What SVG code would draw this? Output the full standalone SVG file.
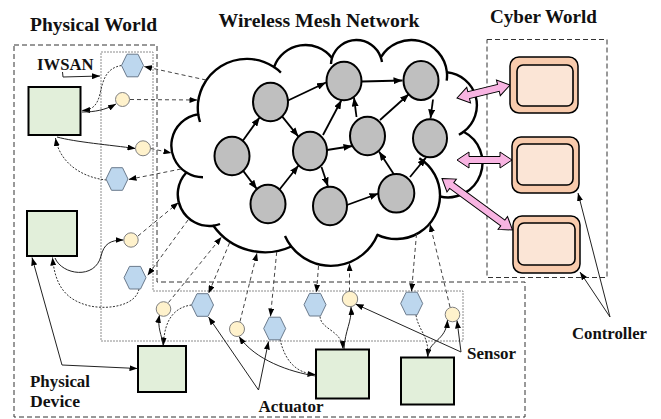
<svg xmlns="http://www.w3.org/2000/svg" width="661" height="419" viewBox="0 0 661 419">
<style>
.lbl{font-family:"Liberation Serif","Times New Roman",serif;font-weight:bold;fill:#111;}
.t19{font-size:19px;}
.t17{font-size:17px;}
.box{fill:none;stroke:#333;stroke-width:1;stroke-dasharray:5,3;}
.iw{fill:none;stroke:#8c8c8c;stroke-width:1;stroke-dasharray:2,1;}
.cloud{fill:#fff;stroke:#000;stroke-width:2.4;stroke-linejoin:round;}
.tail{fill:none;stroke:#000;stroke-width:2.4;}
.mn{fill:#bfbfbf;stroke:#000;stroke-width:2;}
.me{stroke:#000;stroke-width:1.8;fill:none;marker-end:url(#ahn);}
.dev{fill:#e2efda;stroke:#000;stroke-width:2;}
.sen{fill:#fff2cc;stroke:#7f7f7f;stroke-width:1;}
.act{fill:#bdd7ee;stroke:#6a7a8c;stroke-width:1;}
.co{fill:#f8cbad;stroke:#000;stroke-width:1.5;}
.ci{fill:#fbe5d6;stroke:#000;stroke-width:1.6;}
.pk{fill:#f8b4e2;stroke:#000;stroke-width:1;}
.dl{fill:none;stroke:#444;stroke-width:1;stroke-dasharray:4,3;marker-end:url(#ah);}
.dt{fill:none;stroke:#333;stroke-width:1;stroke-dasharray:2,1.5;marker-end:url(#ah);}
.sl{fill:none;stroke:#222;stroke-width:1;marker-end:url(#ah);}
</style>
<defs>
<marker id="ah" markerUnits="userSpaceOnUse" markerWidth="8" markerHeight="6" refX="8" refY="3" orient="auto"><path d="M0,0 L8,3 L0,6 z" fill="#000"/></marker>
<marker id="ahn" markerUnits="userSpaceOnUse" markerWidth="9" markerHeight="7" refX="9" refY="3.5" orient="auto"><path d="M0,0 L9,3.5 L0,7 z" fill="#000"/></marker>
<polygon id="hex" points="-11,0 -5.5,-11.3 5.5,-11.3 11,0 5.5,11.3 -5.5,11.3"/>
</defs>

<g id="frames">
<path class="box" d="M14,45 H157 V282 H525 V417 H14 Z"/>
<rect class="box" x="487" y="39.5" width="120" height="238"/>
<path class="iw" d="M101,52 H153 V291 H463 V341 H101 Z"/>
</g>

<g id="titles">
<text class="lbl t19" x="30" y="31" textLength="127" lengthAdjust="spacingAndGlyphs">Physical World</text>
<text class="lbl t19" x="218.5" y="27" textLength="201" lengthAdjust="spacingAndGlyphs">Wireless Mesh Network</text>
<text class="lbl t19" x="490" y="22.5" textLength="107" lengthAdjust="spacingAndGlyphs">Cyber World</text>
</g>

<g id="cloud">
<path class="cloud" d="M198.2,114.2 A49,49 0 0,1 274,67.1 A33.5,33.5 0 0,1 332,58 A25.7,25.7 0 0,1 380.8,57.3 A35.7,35.7 0 0,1 446.9,72.2 A33.2,33.2 0 0,1 463.6,131.8 A34.7,34.7 0 0,1 440,196.5 A43.7,43.7 0 0,1 377.5,234.8 A50.4,50.4 0 0,1 291.3,246.5 A63.3,63.3 0 0,1 213.4,225.7 A31.7,31.7 0 0,1 186.4,172.5 A31.7,31.7 0 0,1 198.2,114.2 Z"/>
<path class="tail" d="M200,122 A49,49 0 0,1 198.2,114.2 M274,67.1 A49,49 0 0,1 280.9,72.6 M331,64 A25.7,25.7 0 0,1 332,58 M380.8,57.3 A25.7,25.7 0 0,1 382,62 M446.9,72.2 A35.7,35.7 0 0,1 446.7,80.7 M463.6,131.8 A33.2,33.2 0 0,1 458.9,134.8 M419.3,158.2 A43.7,43.7 0 0,1 440,196.5 M291.3,246.5 A50.4,50.4 0 0,1 285,236 M220,224 A31.7,31.7 0 0,1 213.4,225.7 M203,177.2 A31.7,31.7 0 0,1 186.4,172.5"/>
</g>

<g id="connectors">
<!-- mesh edges -->
<path class="me" d="M242.8,140.8 L259.7,117.2"/>
<path class="me" d="M243.2,170.9 L256.9,189.1"/>
<path class="me" d="M288,100.5 L326,82.5"/>
<path class="me" d="M282.1,116.4 L298.4,136.6"/>
<path class="me" d="M279.5,189.5 L298.5,165.5"/>
<path class="me" d="M323,135 L341.5,100"/>
<path class="me" d="M327,150 L352.5,146"/>
<path class="me" d="M321.5,167 L328,186.5"/>
<path class="me" d="M356.5,117 L354,97.5"/>
<path class="me" d="M362,81.5 L402.5,80.5"/>
<path class="me" d="M380,120 L409,94"/>
<path class="me" d="M433,99.5 L430.5,118.5"/>
<path class="me" d="M347,205 L378.5,193.5"/>
<path class="me" d="M394,174.5 L379,151.5"/>
<path class="me" d="M410,177 L426,157.5"/>
<!-- pink links -->
<polygon class="pk" transform="translate(457,98) rotate(-13.78)" points="0,0 12,-8 12,-3.5 42.6,-3.5 42.6,-8 54.6,0 42.6,8 42.6,3.5 12,3.5 12,8"/>
<polygon class="pk" transform="translate(457,160)" points="0,0 12,-8 12,-3.5 43,-3.5 43,-8 55,0 43,8 43,3.5 12,3.5 12,8"/>
<polygon class="pk" transform="translate(442,178.5) rotate(36.15)" points="0,0 12,-8 12,-3.5 75.3,-3.5 75.3,-8 87.3,0 75.3,8 75.3,3.5 12,3.5 12,8"/>
<!-- dashed wireless links -->
<path class="dl" d="M206,80 L144,66.5"/>
<path class="dl" d="M130,99.5 L197.5,100"/>
<path class="dl" d="M150.5,148.5 L171.5,153"/>
<path class="dl" d="M181,169 L128.5,179.5"/>
<path class="dl" d="M138,236 L178.5,202.5"/>
<path class="dl" d="M188,220 L147.5,275.5"/>
<path class="dl" d="M168.5,302.5 L221.5,237"/>
<path class="dl" d="M229.5,243 L208.5,293.5"/>
<path class="dl" d="M240,321.5 L257,253"/>
<path class="dl" d="M276.7,252 L270.5,316.5"/>
<path class="dl" d="M318.5,266 L316.5,292.5"/>
<path class="dl" d="M349.5,291.5 L349.5,263"/>
<path class="dl" d="M416.5,234 L411.5,291.5"/>
<path class="dl" d="M450,307 L430,224"/>
<!-- actuator to device (dotted) -->
<path class="dt" d="M121.5,65.5 C106,68 103,80 100,94 C97,106 92,110 82,110.5"/>
<path class="dt" d="M106.5,180 C85,178 60,165 55.5,138"/>
<path class="dt" d="M139,289 C136,305 110,310 90,306 C65,300 55,285 52.5,257.5"/>
<path class="dt" d="M191.5,305 C176,307 164,318 163.5,345.5"/>
<path class="dt" d="M280,339.5 C285,360 295,373 315.5,374.5"/>
<path class="dt" d="M320,316.5 C321,330 342,330 343,349"/>
<path class="dt" d="M416,315 C418,330 430,337 427.5,357"/>
<!-- device to sensor (solid) -->
<path class="sl" d="M82,112 C95,112 105,110 116,104"/>
<path class="sl" d="M57,137 C75,142 110,145 135.5,148.5"/>
<path class="sl" d="M55,258 C62,275 95,280 101,256 C104,244 110,240 123.5,240"/>
<path class="sl" d="M163,345 C162,335 157,328 159.5,315"/>
<path class="sl" d="M315.5,376 C290,372 255,360 239,336.5"/>
<path class="sl" d="M344,349 C345,330 352,322 351,307"/>
<path class="sl" d="M428,357 C428,340 446,342 447.5,320"/>
<!-- label pointers -->
<path class="sl" d="M62.5,72 L63,77 L100,76"/>
<path class="sl" d="M62,365 L32,257.5"/>
<path class="sl" d="M62,365 L137.5,368.5"/>
<path class="sl" d="M258.5,390 L208.5,317"/>
<path class="sl" d="M258.5,390 L268.5,341.5"/>
<path class="sl" d="M461,352 L355.5,304"/>
<path class="sl" d="M461,352 L457,320.5"/>
<path class="sl" d="M610,317 L578,193"/>
<path class="sl" d="M610,317 L580,272"/>
</g>

<g id="mesh-nodes">
<ellipse id="n1" class="mn" cx="232" cy="156" rx="17.5" ry="19.3"/>
<ellipse id="n2" class="mn" cx="270.5" cy="102" rx="17.5" ry="19.3"/>
<ellipse id="n3" class="mn" cx="268" cy="204" rx="17.5" ry="19.3"/>
<ellipse id="n4" class="mn" cx="310" cy="151" rx="17" ry="19.3"/>
<ellipse id="n5" class="mn" cx="344" cy="81" rx="17.5" ry="19.3"/>
<ellipse id="n6" class="mn" cx="330" cy="206" rx="17" ry="19.3"/>
<ellipse id="n7" class="mn" cx="367.5" cy="136" rx="17.5" ry="19.3"/>
<ellipse id="n8" class="mn" cx="421" cy="80.5" rx="17.5" ry="19.5"/>
<ellipse id="n9" class="mn" cx="430" cy="138.3" rx="17" ry="19"/>
<ellipse id="n10" class="mn" cx="396.3" cy="193.3" rx="18" ry="19.3"/>
</g>

<g id="controllers">
<g id="ctrl1"><rect class="co" x="510" y="57" width="68" height="56" rx="9"/><rect class="ci" x="517" y="65" width="56" height="41" rx="6"/></g>
<g id="ctrl2"><rect class="co" x="512" y="137" width="67" height="56" rx="9"/><rect class="ci" x="517" y="144" width="56" height="41" rx="6"/></g>
<g id="ctrl3"><rect class="co" x="513" y="216" width="67" height="57" rx="9"/><rect class="ci" x="518" y="223" width="57" height="42" rx="6"/></g>
</g>

<g id="devices">
<rect id="dev1" class="dev" x="28.5" y="87" width="52" height="48"/>
<rect id="dev2" class="dev" x="27" y="211" width="50" height="45"/>
<rect id="dev3" class="dev" x="138" y="346" width="48" height="46"/>
<rect id="dev4" class="dev" x="316" y="349.5" width="53" height="49"/>
<rect id="dev5" class="dev" x="401" y="357.5" width="53" height="47"/>
</g>

<g id="sensors">
<circle id="s1" class="sen" cx="122.5" cy="99.5" r="7"/>
<circle id="s2" class="sen" cx="143" cy="148.3" r="7.5"/>
<circle id="s3" class="sen" cx="131" cy="240" r="7.2"/>
<circle id="s4" class="sen" cx="163.5" cy="309" r="7.3"/>
<circle id="s5" class="sen" cx="237" cy="329" r="7.5"/>
<circle id="s6" class="sen" cx="350" cy="299" r="7.7"/>
<circle id="s7" class="sen" cx="452.5" cy="314.5" r="7.3"/>
</g>

<g id="actuators">
<use id="a1" href="#hex" class="act" x="132.5" y="65.5"/>
<use id="a2" href="#hex" class="act" x="117" y="179"/>
<use id="a3" href="#hex" class="act" x="135" y="277.7"/>
<use id="a4" href="#hex" class="act" x="202.5" y="305"/>
<use id="a5" href="#hex" class="act" x="274.7" y="328.5"/>
<use id="a6" href="#hex" class="act" x="315" y="304.7"/>
<use id="a7" href="#hex" class="act" x="411.7" y="303.5"/>
</g>

<g id="labels">
<text class="lbl t17" x="37" y="69.5" textLength="56.5" lengthAdjust="spacingAndGlyphs">IWSAN</text>
<text class="lbl t17" x="30" y="386.5" textLength="60" lengthAdjust="spacingAndGlyphs">Physical</text>
<text class="lbl t17" x="30" y="406.5" textLength="50" lengthAdjust="spacingAndGlyphs">Device</text>
<text class="lbl t17" x="258.5" y="411.5" textLength="65" lengthAdjust="spacingAndGlyphs">Actuator</text>
<text class="lbl t17" x="467" y="358.5" textLength="49" lengthAdjust="spacingAndGlyphs">Sensor</text>
<text class="lbl t17" x="572" y="338.5" textLength="75" lengthAdjust="spacingAndGlyphs">Controller</text>
</g>
</svg>
